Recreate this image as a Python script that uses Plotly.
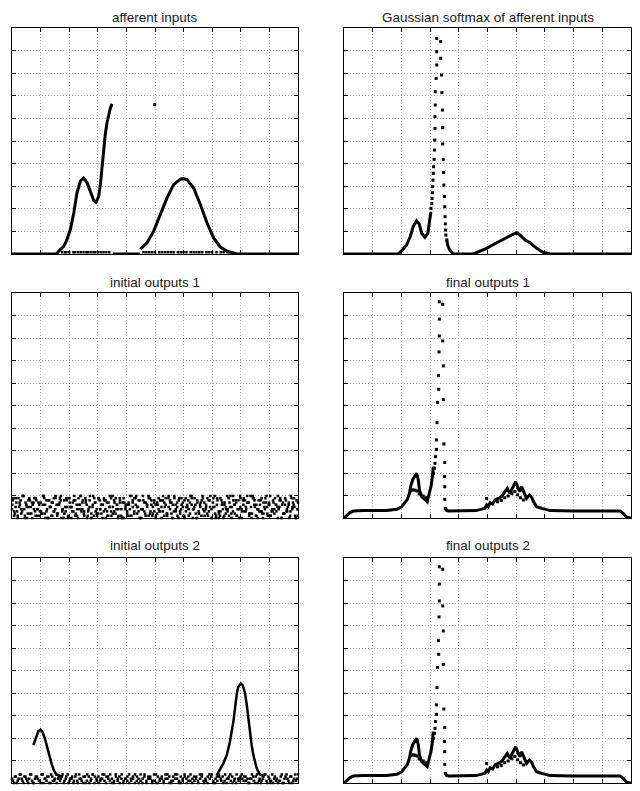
import numpy as np
import plotly.graph_objects as go

# ---------------- data ----------------
titles = ["afferent inputs", "Gaussian softmax of afferent inputs",
          "initial outputs 1", "final outputs 1",
          "initial outputs 2", "final outputs 2"]

# afferent inputs
aff_left_x = [0.0, 0.155, 0.163, 0.172, 0.181, 0.192, 0.204, 0.216, 0.227, 0.239, 0.25, 0.262,
              0.274, 0.286, 0.294, 0.303, 0.309, 0.315, 0.32, 0.326, 0.332, 0.338, 0.344, 0.35]
aff_left_y = [0.0, 0.0, 0.012, 0.022, 0.034, 0.063, 0.108, 0.181, 0.27, 0.322, 0.336, 0.317,
              0.273, 0.236, 0.229, 0.255, 0.307, 0.388, 0.469, 0.528, 0.58, 0.619, 0.646, 0.664]
aff_mid_x = [0.352, 0.448]
aff_mid_y = [0.0, 0.0]
aff_right_x = [0.449, 0.472, 0.495, 0.519, 0.542, 0.565, 0.589, 0.6, 0.612, 0.635, 0.659, 0.682,
               0.705, 0.728, 0.752, 0.787, 1.0]
aff_right_y = [0.022, 0.049, 0.1, 0.174, 0.248, 0.307, 0.332, 0.333, 0.329, 0.292, 0.218, 0.137,
               0.071, 0.031, 0.012, 0.0, 0.0]
aff_base_dots_x = [0.175, 0.185, 0.19, 0.2, 0.215, 0.22, 0.23, 0.24, 0.25, 0.26, 0.265, 0.275,
                   0.285, 0.29, 0.3, 0.31, 0.32, 0.33, 0.34,
                   0.46, 0.47, 0.48, 0.49, 0.50, 0.515, 0.525, 0.535, 0.545, 0.555, 0.565, 0.58,
                   0.59, 0.60, 0.61, 0.625, 0.635, 0.645, 0.655, 0.665, 0.68, 0.69, 0.70, 0.715,
                   0.73, 0.74, 0.755, 0.77]
aff_base_dots_y = [0.008] * len(aff_base_dots_x)
aff_lone_x = [0.499]
aff_lone_y = [0.661]

# Gaussian softmax
sm_line_x = [0.0, 0.189, 0.201, 0.218, 0.230, 0.241, 0.253, 0.262, 0.271, 0.282, 0.292, 0.297, 0.302]
sm_line_y = [0.0, 0.0, 0.015, 0.040, 0.074, 0.121, 0.147, 0.133, 0.091, 0.074, 0.091, 0.136, 0.180]
sm_peak_x = [0.302, 0.303, 0.306, 0.307, 0.308, 0.309, 0.310, 0.311, 0.312, 0.314, 0.315, 0.316,
             0.317, 0.317, 0.318, 0.318, 0.321, 0.323, 0.323, 0.323,
             0.337, 0.337, 0.340, 0.341, 0.343, 0.344, 0.344, 0.346, 0.347, 0.348, 0.350,
             0.351, 0.352, 0.353, 0.354, 0.355, 0.358]
sm_peak_y = [0.180, 0.202, 0.224, 0.246, 0.271, 0.298, 0.327, 0.357, 0.386, 0.419, 0.46, 0.504,
             0.556, 0.608, 0.659, 0.718, 0.777, 0.836, 0.895, 0.954,
             0.940, 0.866, 0.792, 0.714, 0.637, 0.559, 0.487, 0.419, 0.360, 0.305, 0.254,
             0.209, 0.165, 0.133, 0.106, 0.084, 0.062]
sm_tail_x = [0.358, 0.361, 0.367, 0.375, 0.38, 0.45, 0.462, 0.497, 0.532, 0.567, 0.590, 0.602,
             0.613, 0.631, 0.648, 0.671, 0.694, 0.718, 1.0]
sm_tail_y = [0.062, 0.040, 0.021, 0.010, 0.0, 0.0, 0.007, 0.025, 0.050, 0.074, 0.088, 0.094,
             0.084, 0.062, 0.050, 0.025, 0.007, 0.0, 0.0]

# initial outputs 1: random-looking floor (units of 0.01)
cloud1_a = [
    4, 9, 2, 7, 0, 5, 8, 3, 10, 1, 6, 2, 9, 5, 0, 7, 3, 8, 4, 1,
    7, 2, 10, 6, 3, 0, 8, 5, 1, 9, 4, 6, 2, 7, 10, 3, 0, 5, 8, 1,
    9, 5, 3, 8, 1, 6, 0, 4, 10, 7, 2, 9, 6, 3, 8, 0, 5, 1, 7, 4,
    2, 8, 6, 0, 9, 4, 7, 1, 5, 3, 10, 8, 2, 6, 4, 9, 1, 7, 0, 5,
    6, 1, 4, 10, 7, 2, 9, 5, 3, 8, 0, 4, 7, 1, 6, 10, 2, 8, 5, 3,
    0, 7, 9, 3, 5, 8, 1, 6, 2, 10, 4, 7, 0, 9, 3, 5, 8, 2, 6, 1,
    8, 3, 5, 1, 10, 6, 4, 9, 0, 7, 2, 5, 8, 4, 1, 6, 9, 3, 10, 0,
    5, 10, 1, 8, 2, 9, 6, 0, 7, 4, 3, 1, 10, 5, 8, 2, 7, 4, 0, 9,
    3, 6, 8, 4, 7, 1, 10, 2, 9, 5, 6, 0, 3, 8, 2, 7, 4, 10, 1, 6,
    1, 4, 7, 9, 3, 0, 5, 8, 6, 2, 9, 3, 5, 0, 10, 4, 6, 1, 8, 7]
cloud1_b = [
    8, 1, 5, 3, 9, 6, 2, 10, 4, 7, 0, 5, 8, 2, 6, 9, 1, 4, 7, 3,
    2, 6, 9, 0, 4, 8, 5, 1, 7, 3, 10, 2, 6, 9, 0, 4, 8, 3, 5, 9,
    5, 0, 7, 10, 2, 4, 9, 6, 3, 8, 1, 7, 0, 4, 10, 2, 6, 9, 3, 1,
    9, 4, 2, 6, 8, 0, 3, 7, 10, 1, 5, 3, 9, 6, 1, 8, 4, 0, 7, 6,
    3, 7, 10, 1, 5, 9, 6, 2, 8, 0, 4, 10, 3, 7, 5, 1, 9, 6, 2, 8,
    6, 2, 4, 8, 0, 3, 7, 9, 1, 5, 8, 2, 6, 10, 4, 7, 0, 3, 9, 5,
    1, 9, 6, 4, 7, 10, 0, 5, 2, 8, 3, 6, 1, 9, 7, 4, 2, 8, 5, 0,
    7, 5, 0, 9, 3, 1, 8, 4, 6, 2, 10, 9, 5, 0, 3, 6, 8, 1, 4, 10,
    4, 8, 3, 5, 10, 7, 2, 0, 9, 6, 1, 4, 8, 3, 9, 0, 5, 7, 2, 6,
    10, 3, 8, 2, 6, 5, 4, 9, 0, 7, 2, 8, 3, 6, 1, 9, 7, 5, 0, 4]
cloud1_c = [
    6, 3, 9, 1, 7, 4, 10, 0, 5, 8, 2, 7, 4, 9, 1, 6, 3, 10, 2, 8,
    0, 5, 7, 3, 9, 1, 6, 8, 4, 2, 9, 0, 7, 5, 3, 8, 1, 6, 10, 4,
    3, 8, 1, 5, 0, 10, 7, 2, 9, 4, 6, 3, 8, 1, 5, 9, 2, 7, 4, 0,
    7, 0, 9, 4, 2, 6, 1, 8, 3, 10, 5, 0, 4, 8, 2, 6, 9, 3, 1, 7,
    1, 6, 3, 8, 10, 5, 2, 9, 7, 0, 3, 6, 1, 9, 4, 7, 0, 5, 8, 2,
    9, 4, 6, 0, 2, 7, 10, 3, 5, 1, 8, 4, 9, 2, 6, 0, 3, 7, 1, 5,
    4, 7, 2, 10, 6, 1, 8, 5, 0, 9, 3, 7, 2, 5, 10, 8, 1, 4, 6, 3,
    2, 9, 5, 7, 1, 3, 4, 6, 10, 8, 0, 2, 6, 4, 7, 3, 5, 9, 0, 1]

# initial outputs 2: floor (units of 0.01) and two bumps
cloud2_a = [
    2, 0, 3, 1, 4, 2, 0, 3, 1, 2, 4, 0, 2, 3, 1, 0, 4, 2, 1, 3,
    0, 3, 1, 4, 2, 1, 3, 0, 2, 4, 1, 2, 0, 3, 1, 4, 2, 0, 3, 1,
    3, 1, 4, 0, 2, 3, 1, 2, 4, 0, 3, 1, 2, 0, 4, 1, 3, 2, 0, 2,
    1, 4, 2, 3, 0, 1, 2, 4, 0, 3, 1, 2, 3, 0, 1, 4, 0, 2, 3, 1,
    4, 2, 0, 1, 3, 2, 4, 1, 0, 2, 3, 0, 1, 4, 2, 1, 3, 0, 2, 4,
    0, 1, 3, 2, 4, 0, 2, 1, 3, 1, 0, 4, 2, 3, 1, 0, 2, 4, 1, 3,
    2, 3, 1, 0, 2, 4, 1, 3, 0, 2, 1, 3, 4, 0, 2, 1, 0, 3, 2, 1,
    3, 0, 2, 4, 1, 3, 0, 2, 1, 4]
cloud2_b = [
    1, 3, 0, 2, 4, 1, 3, 2, 0, 4, 1, 0, 3, 2, 1, 4, 0, 2, 3, 0,
    4, 1, 2, 0, 3, 2, 4, 1, 3, 0, 2, 3, 1, 4, 0, 2, 1, 3, 0, 4,
    0, 2, 4, 3, 1, 0, 2, 4, 1, 3, 2, 4, 0, 1, 3, 2, 0, 4, 1, 2,
    3, 0, 1, 2, 4, 3, 0, 1, 2, 4, 0, 3, 2, 1, 4, 0, 3, 1, 2, 0,
    2, 4, 3, 0, 1, 4, 2, 0, 3, 1, 4, 2, 3, 1, 0, 3, 2, 1, 4, 3,
    1, 2, 0, 4, 3, 1, 0, 3, 4, 2, 3, 1, 0, 2, 4, 3, 1, 0, 2, 2,
    4, 1, 3, 2, 0, 2, 3, 0, 4, 1, 0, 2, 4, 1, 3, 0, 4, 2, 1, 0,
    1, 4, 0, 3, 2, 0, 3, 1, 4, 2]
io2_left_x = [0.0746, 0.0804, 0.0862, 0.092, 0.100, 0.107, 0.115, 0.121, 0.127, 0.133, 0.139,
              0.145, 0.150, 0.156, 0.166, 0.174]
io2_left_y = [0.168, 0.191, 0.213, 0.230, 0.238, 0.225, 0.198, 0.168, 0.139, 0.109, 0.083,
              0.062, 0.047, 0.038, 0.032, 0.028]
io2_right_x = [0.716, 0.727, 0.739, 0.751, 0.762, 0.774, 0.780, 0.786, 0.791, 0.800, 0.807,
               0.815, 0.821, 0.826, 0.832, 0.838, 0.844, 0.850, 0.855, 0.861, 0.867, 0.879]
io2_right_y = [0.035, 0.058, 0.087, 0.124, 0.183, 0.272, 0.338, 0.397, 0.427, 0.442, 0.434,
               0.397, 0.346, 0.287, 0.227, 0.168, 0.124, 0.092, 0.068, 0.050, 0.038, 0.032]

# final outputs (1 and 2 look identical)
fin_main_x = [0.0, 0.009, 0.021, 0.033, 0.067, 0.149, 0.184, 0.201, 0.213, 0.221, 0.228, 0.232,
              0.239, 0.247, 0.253, 0.259, 0.263, 0.271, 0.282, 0.290, 0.297, 0.303, 0.308, 0.311]
fin_main_y = [0.0, 0.009, 0.024, 0.031, 0.033, 0.033, 0.039, 0.050, 0.068, 0.083, 0.110, 0.139,
              0.169, 0.187, 0.199, 0.169, 0.124, 0.095, 0.083, 0.073, 0.110, 0.139, 0.184, 0.228]
fin_second_x = [0.233, 0.240, 0.247, 0.254, 0.262, 0.276, 0.286]
fin_second_y = [0.121, 0.125, 0.124, 0.120, 0.107, 0.098, 0.090]
fin_peak_x = [0.312, 0.315, 0.317, 0.319, 0.322, 0.322, 0.324, 0.326, 0.330, 0.329, 0.331, 0.332,
              0.332, 0.332, 0.344, 0.344, 0.346, 0.346, 0.348, 0.351, 0.350, 0.351, 0.351, 0.353]
fin_peak_y = [0.199, 0.221, 0.243, 0.273, 0.305, 0.347, 0.424, 0.514, 0.572, 0.633, 0.738, 0.809,
              0.884, 0.961, 0.950, 0.787, 0.676, 0.527, 0.329, 0.247, 0.184, 0.139, 0.083, 0.043]
fin_tail_x = [0.353, 0.358, 0.365, 0.40, 0.46, 0.491, 0.497, 0.503, 0.509, 0.518, 0.526, 0.538,
              0.549, 0.561, 0.569, 0.578, 0.590, 0.598, 0.607, 0.613, 0.619, 0.627, 0.636, 0.646,
              0.654, 0.660, 0.671, 0.689, 0.718, 0.80, 0.962, 0.973, 0.985, 1.0]
fin_tail_y = [0.043, 0.033, 0.031, 0.031, 0.033, 0.043, 0.058, 0.050, 0.068, 0.062, 0.080, 0.087,
              0.095, 0.117, 0.132, 0.110, 0.139, 0.161, 0.132, 0.117, 0.139, 0.110, 0.087, 0.102,
              0.092, 0.073, 0.050, 0.043, 0.033, 0.031, 0.031, 0.021, 0.003, 0.0]
fin_second2_x = [0.497, 0.535, 0.548, 0.560, 0.572, 0.585, 0.595, 0.605, 0.615, 0.625]
fin_second2_y = [0.087, 0.072, 0.078, 0.090, 0.098, 0.108, 0.118, 0.103, 0.090, 0.080]

# ---------------- figure ----------------
fig = go.Figure()
BLACK = "black"


def axref(k):
    return ("x%d" % k if k > 1 else "x"), ("y%d" % k if k > 1 else "y")


def line(x, y, k, w=3):
    xa, ya = axref(k)
    fig.add_trace(go.Scatter(x=x, y=y, mode="lines", line=dict(color=BLACK, width=w),
                             xaxis=xa, yaxis=ya, showlegend=False, hoverinfo="skip"))


def dots(x, y, k, s=3):
    xa, ya = axref(k)
    fig.add_trace(go.Scatter(x=x, y=y, mode="markers",
                             marker=dict(color=BLACK, size=s, symbol="square", line=dict(width=0)),
                             xaxis=xa, yaxis=ya, showlegend=False, hoverinfo="skip",
                             cliponaxis=False))


# panel 1
line(aff_left_x, aff_left_y, 1)
line(aff_mid_x, aff_mid_y, 1)
line(aff_right_x, aff_right_y, 1)
dots(aff_base_dots_x, aff_base_dots_y, 1, 2.5)
dots(aff_lone_x, aff_lone_y, 1, 3)

# panel 2
line(sm_line_x, sm_line_y, 2)
dots(sm_peak_x, sm_peak_y, 2, 3)
line(sm_tail_x, sm_tail_y, 2)

# panel 3
for arr, off in ((cloud1_a, 0.0), (cloud1_b, 0.0025), (cloud1_c, 0.0012)):
    xs = np.linspace(off, 1.0 - off, len(arr))
    dots(list(xs), [v * 0.0098 for v in arr], 3, 2.5)

# panel 5
for arr, off in ((cloud2_a, 0.0), (cloud2_b, 0.0033)):
    xs = np.linspace(off, 1.0 - off, len(arr))
    dots(list(xs), [v * 0.0095 for v in arr], 5, 2.5)
line(io2_left_x, io2_left_y, 5, 2.5)
line(io2_right_x, io2_right_y, 5, 2.5)

# panels 4 and 6
for k in (4, 6):
    line(fin_main_x, fin_main_y, k)
    dots(fin_second_x, fin_second_y, k, 3)
    dots(fin_peak_x, fin_peak_y, k, 3)
    line(fin_tail_x, fin_tail_y, k)
    dots(fin_second2_x, fin_second2_y, k, 3)

W, H = 640, 791
col_dom = [[12 / W, 298 / W], [344 / W, 631 / W]]
row_px = [(28, 254), (293, 518), (558, 783)]
row_dom = [[1 - b / H, 1 - t / H] for t, b in row_px]
title_px = [17.5, 282, 545.5]

axis_style = dict(range=[0, 1], tick0=0, dtick=0.1, showticklabels=False, ticks="inside",
                  ticklen=4, tickcolor=BLACK, tickwidth=1, showline=True, linecolor=BLACK,
                  linewidth=1, mirror="ticks", showgrid=True, gridcolor="#b4b4b4",
                  griddash="1px,2px", gridwidth=1, zeroline=False, fixedrange=True)

layout = dict(width=W, height=H, margin=dict(l=0, r=0, t=0, b=0),
              paper_bgcolor="white", plot_bgcolor="white", showlegend=False)
annotations = []
for k in range(1, 7):
    r = (k - 1) // 2
    c = (k - 1) % 2
    sx = "" if k == 1 else str(k)
    layout["xaxis" + sx] = dict(axis_style, domain=col_dom[c], anchor="y" + sx)
    layout["yaxis" + sx] = dict(axis_style, domain=row_dom[r], anchor="x" + sx)
    annotations.append(dict(text=titles[k - 1], xref="paper", yref="paper",
                            x=(col_dom[c][0] + col_dom[c][1]) / 2, y=1 - title_px[r] / H,
                            xanchor="center", yanchor="middle", showarrow=False,
                            font=dict(family="Liberation Sans, Arial, sans-serif", size=13.5,
                                      color="#1a1a1a")))
layout["annotations"] = annotations
fig.update_layout(**layout)

fig.write_html("out.html", config={"displayModeBar": False},
               post_script="document.body.style.margin='0px';document.body.style.overflow='hidden';")
